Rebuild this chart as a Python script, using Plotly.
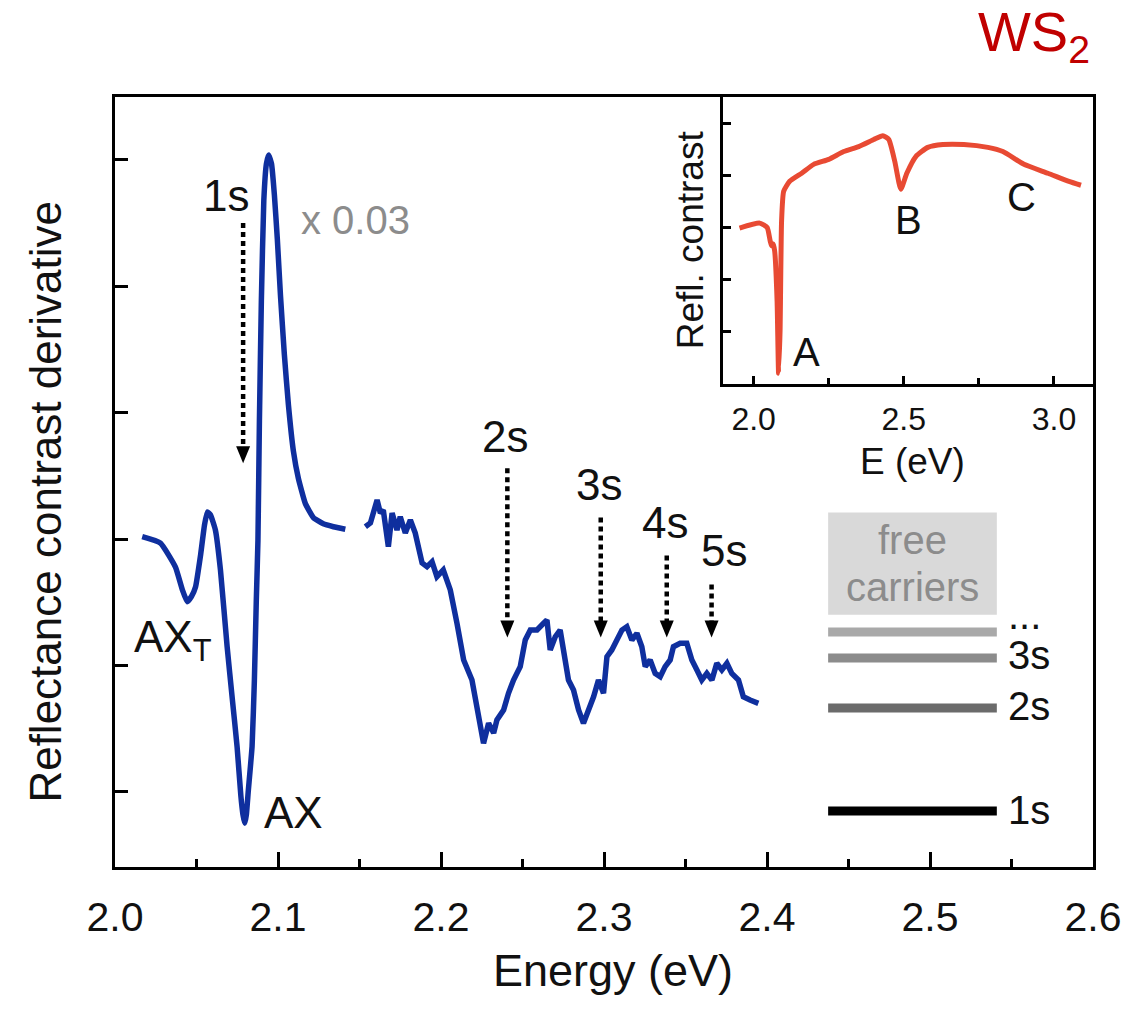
import plotly.graph_objects as go

# ---------------- data ----------------
# Derivative of reflectance contrast: A-exciton region (shown scaled x 0.03)
energy_low = [2.0167, 2.0279, 2.0371, 2.0414, 2.0443, 2.0469, 2.0494, 2.0525, 2.0549,
              2.0567, 2.0586, 2.0616, 2.0647, 2.0688, 2.0720, 2.0749, 2.0772, 2.0785,
              2.0796, 2.0806, 2.0818, 2.0841, 2.0855, 2.0867, 2.0877, 2.0886, 2.0898,
              2.0913, 2.0929, 2.0943, 2.0960, 2.0978, 2.0996, 2.1015, 2.1039, 2.1064,
              2.1094, 2.1125, 2.1168, 2.1217, 2.1278, 2.1340, 2.1413]
deriv_low = [0.018, -0.032, -0.222, -0.404, -0.496, -0.455, -0.380, -0.127, 0.111,
             0.214, 0.190, 0.071, -0.245, -0.852, -1.270, -1.643, -2.030, -2.180,
             -2.249, -2.180, -1.990, -1.640, -1.120, -0.480, -0.010, 0.940, 1.890,
             2.680, 2.970, 3.038, 2.970, 2.720, 2.370, 1.930, 1.460, 1.060,
             0.700, 0.480, 0.280, 0.170, 0.120, 0.097, 0.077]

# Derivative of reflectance contrast: excited Rydberg states region
energy_high = [2.1536, 2.1567, 2.1608, 2.1628, 2.1646, 2.1677, 2.1700, 2.1730, 2.1750,
               2.1781, 2.1812, 2.1842, 2.1884, 2.1914, 2.1945, 2.1975, 2.2014, 2.2057,
               2.2098, 2.2139, 2.2190, 2.2221, 2.2261, 2.2292, 2.2323, 2.2343, 2.2384,
               2.2414, 2.2445, 2.2486, 2.2517, 2.2548, 2.2589, 2.2629, 2.2650, 2.2670,
               2.2701, 2.2731, 2.2752, 2.2782, 2.2813, 2.2844, 2.2874, 2.2905, 2.2936,
               2.2966, 2.2997, 2.3018, 2.3048, 2.3079, 2.3110, 2.3140, 2.3171, 2.3202,
               2.3232, 2.3253, 2.3283, 2.3314, 2.3345, 2.3375, 2.3406, 2.3426, 2.3467,
               2.3508, 2.3539, 2.3570, 2.3600, 2.3631, 2.3662, 2.3692, 2.3723, 2.3754,
               2.3784, 2.3825, 2.3855, 2.3896, 2.3947]
deriv_high = [0.097, 0.127, 0.309, 0.206, 0.229, -0.061, 0.206, 0.071, 0.176,
              0.047, 0.150, 0.047, -0.190, -0.219, -0.180, -0.298, -0.245, -0.403,
              -0.667, -0.957, -1.116, -1.353, -1.616, -1.458, -1.535, -1.432, -1.353,
              -1.221, -1.116, -1.010, -0.799, -0.720, -0.720, -0.667, -0.641, -0.878,
              -0.773, -0.720, -0.904, -1.116, -1.195, -1.353, -1.458, -1.353, -1.248,
              -1.116, -1.221, -0.931, -0.878, -0.799, -0.720, -0.694, -0.799, -0.746,
              -0.852, -1.010, -0.957, -1.063, -1.089, -1.010, -0.957, -0.852, -0.825,
              -0.825, -0.957, -1.036, -1.116, -1.063, -1.116, -0.983, -1.036, -0.983,
              -1.063, -1.116, -1.248, -1.274, -1.300]

# Inset: reflectance contrast over a wide energy range
inset_energy = [1.953, 2.020, 2.045, 2.055, 2.060, 2.065, 2.070, 2.078, 2.083, 2.088,
                2.093, 2.100, 2.120, 2.160, 2.200, 2.250, 2.300, 2.350, 2.400, 2.430,
                2.450, 2.470, 2.490, 2.510, 2.540, 2.580, 2.630, 2.700, 2.780, 2.830,
                2.900, 2.980, 3.050, 3.090]
inset_contrast = [0.598, 0.617, 0.600, 0.549, 0.530, 0.537, 0.510, 0.320, 0.042, 0.206,
                  0.625, 0.739, 0.777, 0.808, 0.842, 0.861, 0.891, 0.910, 0.937, 0.952,
                  0.937, 0.853, 0.747, 0.808, 0.872, 0.907, 0.918, 0.918, 0.907, 0.891,
                  0.842, 0.808, 0.777, 0.762]
inset_peaks = ["A", "B", "C"]
inset_peak_energy = [2.176, 2.517, 2.892]
inset_peak_level = [0.122, 0.629, 0.716]

# Rydberg series markers
rydberg_labels = ["1s", "2s", "3s", "4s", "5s"]
rydberg_energy = [2.0786, 2.2407, 2.2980, 2.3385, 2.3660]
arrow_top = [2.50, 0.56, 0.17, -0.13, -0.36]
arrow_tip = [0.60, -0.78, -0.78, -0.78, -0.78]
label_energy = [2.0678, 2.2394, 2.2970, 2.3375, 2.3737]
label_level = [2.72, 0.81, 0.43, 0.13, -0.09]

# Energy-level scheme
level_names = ["1s", "2s", "3s", "..."]
level_values = [-2.152, -1.337, -0.941, -0.736]
level_label_values = [-2.144, -1.321, -0.918, -0.600]
level_colors = ["#000000", "#6b6b6b", "#8c8c8c", "#a9a9a9"]
continuum_band = [-0.60, 0.21]

# ---------------- styling ----------------
FONT = "Liberation Sans, Arial, Helvetica, sans-serif"
BLUE = "#0f2f9e"
RED = "#e84a33"
TXT = "#111111"
GRAY_TXT = "#8c8c8c"
scheme_x = [2.4375, 2.541]
scheme_label_x = 2.5466
HEAD_PATH = "M-7,17 L7,17 L0,0 Z"   # arrowhead, pixel offsets from the tip

fig = go.Figure()

fig.add_trace(go.Scatter(x=energy_low, y=deriv_low, mode="lines",
                         line=dict(color=BLUE, width=5.5, shape="spline", smoothing=0.4),
                         hoverinfo="skip", showlegend=False))
fig.add_trace(go.Scatter(x=energy_high, y=deriv_high, mode="lines",
                         line=dict(color=BLUE, width=5.5),
                         hoverinfo="skip", showlegend=False))

# dotted arrow shafts + heads
annotations = []
head_gap = 0.12
for lab, e, top, tip, le, ll in zip(rydberg_labels, rydberg_energy, arrow_top, arrow_tip,
                                    label_energy, label_level):
    fig.add_trace(go.Scatter(x=[e, e], y=[top, tip + head_gap], mode="lines",
                             line=dict(color="#000000", width=4.5, dash="5px,4px"),
                             hoverinfo="skip", showlegend=False))
    fig.add_shape(type="path", xref="x", yref="y", xsizemode="pixel", ysizemode="pixel",
                  xanchor=e, yanchor=tip, path=HEAD_PATH,
                  fillcolor="#000000", line=dict(width=0))
    annotations.append(dict(x=le, y=ll, xref="x", yref="y", text=lab, showarrow=False,
                            xanchor="center", yanchor="middle",
                            font=dict(family=FONT, size=44, color=TXT)))

# level scheme
fig.add_shape(type="rect", xref="x", yref="y", x0=scheme_x[0], x1=scheme_x[1],
              y0=continuum_band[0], y1=continuum_band[1],
              fillcolor="#d9d9d9", line=dict(width=0), layer="below")
for name, val, lval, col in zip(level_names, level_values, level_label_values, level_colors):
    fig.add_trace(go.Scatter(x=scheme_x, y=[val, val], mode="lines",
                             line=dict(color=col, width=9),
                             hoverinfo="skip", showlegend=False))
    annotations.append(dict(x=scheme_label_x, y=lval, xref="x", yref="y", text=name,
                            showarrow=False, xanchor="left", yanchor="middle",
                            font=dict(family=FONT, size=40, color=TXT)))
band_mid = sum(scheme_x) / 2
annotations.append(dict(x=band_mid, y=-0.008, xref="x", yref="y", text="free",
                        showarrow=False, font=dict(family=FONT, size=40, color=GRAY_TXT)))
annotations.append(dict(x=band_mid, y=-0.38, xref="x", yref="y", text="carriers",
                        showarrow=False, font=dict(family=FONT, size=40, color=GRAY_TXT)))

# peak labels
annotations.append(dict(x=2.0107, y=-0.80, xref="x", yref="y", text="AX<sub>T</sub>",
                        showarrow=False, xanchor="left", yanchor="middle",
                        font=dict(family=FONT, size=44, color=TXT)))
annotations.append(dict(x=2.0904, y=-2.16, xref="x", yref="y", text="AX",
                        showarrow=False, xanchor="left", yanchor="middle",
                        font=dict(family=FONT, size=44, color=TXT)))
annotations.append(dict(x=2.1474, y=2.524, xref="x", yref="y", text="x 0.03",
                        showarrow=False, xanchor="center", yanchor="middle",
                        font=dict(family=FONT, size=40, color=GRAY_TXT)))

# inset
fig.add_trace(go.Scatter(x=inset_energy, y=inset_contrast, mode="lines",
                         xaxis="x2", yaxis="y2",
                         line=dict(color=RED, width=5, shape="spline", smoothing=0.5),
                         hoverinfo="skip", showlegend=False))
for lab, e, v in zip(inset_peaks, inset_peak_energy, inset_peak_level):
    annotations.append(dict(x=e, y=v, xref="x2", yref="y2", text=lab, showarrow=False,
                            xanchor="center", yanchor="middle",
                            font=dict(family=FONT, size=40, color=TXT)))
annotations.append(dict(x=0.588, y=0.814, xref="paper", yref="paper", text="Refl. contrast",
                        textangle=-90, showarrow=False, xanchor="center", yanchor="middle",
                        font=dict(family=FONT, size=37, color=TXT)))
annotations.append(dict(x=0.815, y=0.526, xref="paper", yref="paper", text="E (eV)",
                        showarrow=False, xanchor="center", yanchor="middle",
                        font=dict(family=FONT, size=37, color=TXT)))

# axis titles and material label
annotations.append(dict(x=-0.072, y=0.474, xref="paper", yref="paper",
                        text="Reflectance contrast derivative", textangle=-90,
                        showarrow=False, xanchor="center", yanchor="middle",
                        font=dict(family=FONT, size=44, color=TXT)))
annotations.append(dict(x=0.509, y=-0.134, xref="paper", yref="paper", text="Energy (eV)",
                        showarrow=False, xanchor="center", yanchor="middle",
                        font=dict(family=FONT, size=45, color=TXT)))
annotations.append(dict(x=0.999, y=1.08, xref="paper", yref="paper", text="WS<sub>2</sub>",
                        showarrow=False, xanchor="right", yanchor="middle",
                        font=dict(family=FONT, size=56, color="#c00000")))

axis_common = dict(showline=True, linecolor="#000000", linewidth=3, showgrid=False,
                   zeroline=False, ticks="inside", tickcolor="#000000", tickwidth=3)

fig.update_layout(
    width=1143, height=1009,
    margin=dict(l=115, r=50, t=97, b=142),
    paper_bgcolor="#ffffff", plot_bgcolor="#ffffff",
    showlegend=False,
    font=dict(family=FONT, color=TXT),
    xaxis=dict(axis_common, range=[2.0, 2.6], dtick=0.1, tick0=2.0, tickformat=".1f",
               ticklen=15, mirror=True, domain=[0, 1],
               tickfont=dict(family=FONT, size=41, color=TXT), ticklabelstandoff=12,
               minor=dict(dtick=0.05, ticks="inside", ticklen=8, tickwidth=3,
                          tickcolor="#000000")),
    yaxis=dict(axis_common, range=[-2.595, 3.497], tickvals=[-2, -1, 0, 1, 2, 3],
               showticklabels=False, ticklen=13, mirror=True, domain=[0, 1]),
    xaxis2=dict(axis_common, range=[1.899, 3.13], dtick=0.5, tick0=2.0, tickformat=".1f",
                ticklen=8, domain=[0.622, 1.0], anchor="y2",
                tickfont=dict(family=FONT, size=32, color=TXT), ticklabelstandoff=4,
                minor=dict(dtick=0.25, ticks="inside", ticklen=6, tickwidth=3,
                           tickcolor="#000000")),
    yaxis2=dict(axis_common, range=[0, 1.1], tickvals=[0.2, 0.4, 0.6, 0.8, 1.0],
                showticklabels=False, ticklen=8, domain=[0.627, 1.0], anchor="x2"),
    annotations=annotations,
)

fig.write_html("out.html")
